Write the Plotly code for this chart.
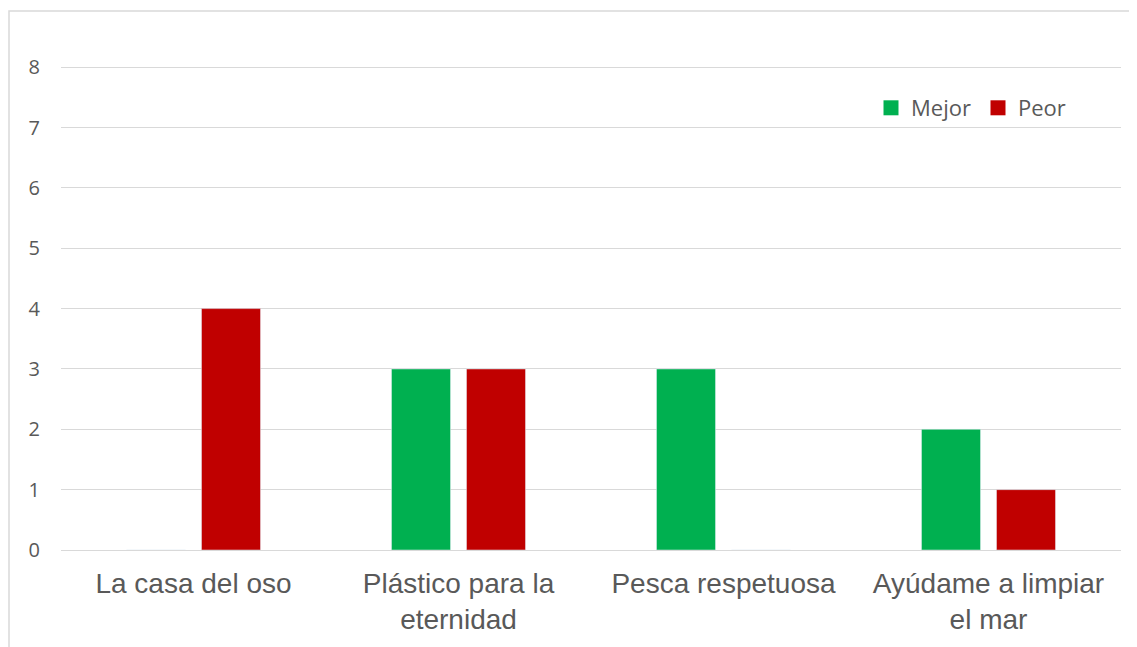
import plotly.graph_objects as go

categories = ["La casa del oso", "Plástico para la<br>eternidad", "Pesca respetuosa", "Ayúdame a limpiar<br>el mar"]
mejor = [0, 3, 3, 2]
peor = [4, 3, 0, 1]
y_ticks = [0, 1, 2, 3, 4, 5, 6, 7, 8]
series_names = ["Mejor", "Peor"]
series_colors = ["#00B050", "#C00000"]

# page is shown with an 8px body margin, so figure coords = reference coords - 8
W, H = 1137, 647
L, R, T, B = 53, 24, 58, 105
pw = W - L - R
ph = H - T - B

fig = go.Figure()
for name, vals, col in zip(series_names, [mejor, peor], series_colors):
    fig.add_trace(go.Bar(x=categories, y=vals, name=name, marker_color=col, showlegend=False))
# legend entries with larger square icons
for name, col in zip(series_names, series_colors):
    fig.add_trace(go.Scatter(x=[None], y=[None], mode="markers", name=name,
                             marker=dict(symbol="square", size=15, color=col), showlegend=True))

fig.update_layout(
    width=W, height=H,
    margin=dict(l=L, r=R, t=T, b=B, autoexpand=False),
    paper_bgcolor="white", plot_bgcolor="white",
    barmode="group", bargap=0.434, bargroupgap=0.213,
    legend=dict(orientation="h", x=(863 - L) / pw, y=(542 - 100) / ph, xanchor="left", yanchor="middle",
                font=dict(family="Open Sans", size=22, color="#595959"), bgcolor="rgba(0,0,0,0)",
                itemsizing="trace", traceorder="normal", entrywidth=62, entrywidthmode="pixels"),
    xaxis=dict(showgrid=False, showline=False, ticks="",
               tickfont=dict(family="Liberation Sans, Arial", size=28, color="#595959"),
               ticklabelstandoff=14),
    yaxis=dict(range=[0, 8.02], tickvals=y_ticks, showgrid=True, gridcolor="#D9D9D9", gridwidth=1,
               zeroline=True, zerolinecolor="#D9D9D9", zerolinewidth=1, showline=False, ticks="",
               tickfont=dict(family="Open Sans", size=20, color="#595959"), ticklabelstandoff=20),
    shapes=[dict(type="rect", xref="paper", yref="paper",
                 x0=(1 - L) / pw, x1=(1127 - L) / pw, y0=-(H + 30 - 542) / ph, y1=(542 - 3) / ph,
                 line=dict(color="#D9D9D9", width=1.5), fillcolor="rgba(0,0,0,0)", layer="below")],
)

fig.write_html("out.html")
